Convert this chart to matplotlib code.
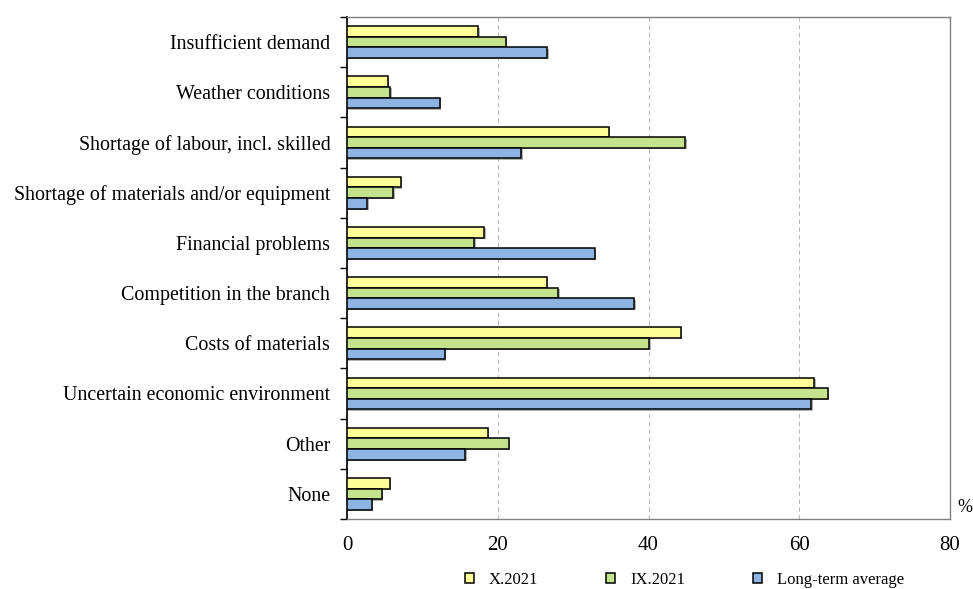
import matplotlib
matplotlib.use("Agg")
import matplotlib.pyplot as plt
import matplotlib.patheffects as pe
import numpy as np

categories = ["Insufficient demand", "Weather conditions", "Shortage of labour, incl. skilled",
              "Shortage of materials and/or equipment", "Financial problems",
              "Competition in the branch", "Costs of materials",
              "Uncertain economic environment", "Other", "None"]
x2021 = [17.4, 5.4, 34.7, 7.1, 18.2, 26.5, 44.3, 62.0, 18.7, 5.7]
ix2021 = [21.1, 5.75, 44.9, 6.15, 16.9, 28.05, 40.1, 63.8, 21.5, 4.6]
longterm = [26.6, 12.35, 23.1, 2.7, 32.9, 38.1, 13.0, 61.6, 15.7, 3.3]
series_names = ["X.2021", "IX.2021", "Long-term average"]
xticks = [0, 20, 40, 60, 80]

plt.rcParams['font.family'] = ['Liberation Serif', 'DejaVu Serif']

fig = plt.figure(figsize=(9.73, 5.89), dpi=100)
ax = fig.add_axes([347/973, 1-519/589, 603/973, 502/589])

y = np.arange(len(categories))
h = 0.21
colors = ["#FFFF99", "#C4E38C", "#8DB4E2"]
shadow = [pe.SimplePatchShadow(offset=(1, -1), shadow_rgbFace="#808080", alpha=0.6), pe.Normal()]
for k, (vals, c, nm) in enumerate(zip([x2021, ix2021, longterm], colors, series_names)):
    bars = ax.barh(y + (k - 1) * h, vals, height=h, color=c, edgecolor="black",
                   linewidth=1.1, label=nm, zorder=3)
    for b in bars:
        b.set_path_effects(shadow)

ax.set_xlim(0, 80)
ax.set_ylim(len(categories) - 0.5, -0.5)
ax.set_xticks(xticks)
ax.set_xticklabels([str(t) for t in xticks], fontsize=15)
ax.tick_params(axis='x', length=0, pad=12)
ax.set_yticks(y)
ax.set_yticklabels(categories, fontsize=14.4)
ax.tick_params(axis='y', which='major', length=0, pad=12)
ax.set_yticks(np.arange(len(categories) + 1) - 0.5, minor=True)
ax.tick_params(axis='y', which='minor', length=5, width=1, color='black', direction='out')

ax.grid(axis='x', linestyle=(0, (4, 3)), color='#BBBBBB', linewidth=0.8, zorder=0)
ax.set_axisbelow(True)
ax.spines['left'].set_color('black')
ax.spines['left'].set_linewidth(1.2)
for s in ['top', 'right', 'bottom']:
    ax.spines[s].set_color('#808080')
    ax.spines[s].set_linewidth(1.0)

fig.text(965/973, 1-508/589, "%", fontsize=13, ha='center', va='center')

handles, labels = ax.get_legend_handles_labels()
leg = fig.legend(handles, labels, loc='center left', bbox_to_anchor=(465/973, 1-580/589),
                 ncol=3, frameon=False, fontsize=12, handlelength=0.52, handleheight=0.52,
                 columnspacing=4.1, handletextpad=0.9, borderpad=0, borderaxespad=0)
for hd in leg.legend_handles:
    hd.set_path_effects([])

fig.savefig("out.png", dpi=100)
